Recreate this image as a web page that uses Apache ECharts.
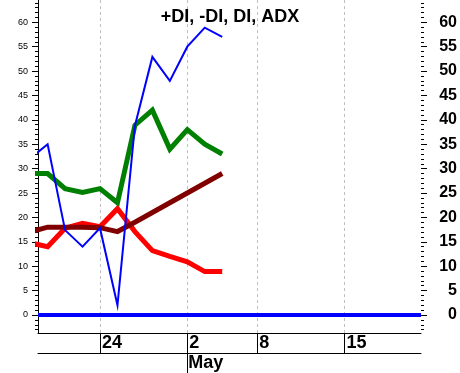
<!DOCTYPE html>
<html><head><meta charset="utf-8">
<script src="https://cdn.jsdelivr.net/npm/echarts@6/dist/echarts.min.js"></script>
<style>html,body{margin:0;padding:0;background:#fff}#c{width:460px;height:373px}</style>
</head><body><div id="c"></div>
<script>
// ---- data ----
const tradingDays = ['Apr 18','Apr 21','Apr 22','Apr 23','Apr 24','Apr 25','Apr 28','Apr 29','Apr 30',
  'May 2','May 5','May 6','May 7','May 8','May 9','May 12','May 13','May 14','May 15','May 16','May 19','May 20','May 21'];
const plusDI  = [29, 29, 25.9, 25.1, 25.9, 23, 38.9, 42, 34, 38, 35, 33];
const minusDI = [14.8, 14, 17.8, 18.8, 18.1, 21.8, 17.1, 13.2, 12, 10.9, 8.9, 8.9];
const dxLine  = [32.1, 35, 17.4, 14, 17.8, 2, 38.8, 52.9, 48, 55, 58.9, 57];
const adx     = [17.0, 18, 18, 18, 17.9, 17.1, 19, 21, 23, 25, 27, 29];
const baseline = 0;
const dayTicks = ['Apr 24','May 2','May 8','May 15'];
const dayTickLabels = ['24','2','8','15'];
const monthTicks = ['May 2'];
const monthTickLabels = ['May'];
const yTickLabelsMin = 0, yTickLabelsMax = 60, yTickStep = 5;
const titleText = '+DI, -DI, DI, ADX';

// ---- helpers ----
const idx = d => tradingDays.indexOf(d);
const pts = arr => arr.map((v, i) => [i, v]);
const anchor = idx('Apr 24');
const xMin = anchor - 3.551, xMax = anchor + 18.385;
const dayTickIdx = dayTicks.map(idx);
const monthTickIdx = monthTicks.map(idx);
const FONT = 'Liberation Sans';
const L = 38, R = 39;

const chart = echarts.init(document.getElementById('c'), null, {renderer: 'canvas'});
const hiddenX = g => ({gridIndex: g, type: 'value', show: false, min: 0, max: 1});
const lineSeries = (data, color, width) => ({
  type: 'line', xAxisIndex: 0, yAxisIndex: 0, data: pts(data), symbol: 'none', showSymbol: false,
  lineStyle: {color, width, cap: 'butt', join: 'miter'}, itemStyle: {color}, emphasis: {disabled: true}, silent: true, clip: true
});

chart.setOption({
  animation: false,
  backgroundColor: '#fff',
  title: {text: titleText, left: 'center', top: 3,
    textStyle: {fontFamily: FONT, fontSize: 18, fontWeight: 'bold', color: '#000'}},
  grid: [
    {left: L, right: R, top: 0, bottom: 40},
    {left: L, right: R, top: 2.78, bottom: 43.36},
    {left: L, right: R, top: 22.3, bottom: 58}
  ],
  xAxis: [
    {gridIndex: 0, type: 'value', min: xMin, max: xMax, position: 'bottom',
      axisLine: {show: true, onZero: false, lineStyle: {color: '#000', width: 1}},
      axisTick: {show: true, customValues: dayTickIdx, length: 20, lineStyle: {color: '#000', width: 1}},
      axisLabel: {show: true, customValues: dayTickIdx,
        formatter: v => dayTickLabels[dayTickIdx.indexOf(Math.round(v))],
        align: 'left', verticalAlign: 'middle', margin: 10, padding: [0, 0, 0, 2],
        fontFamily: FONT, fontSize: 18, fontWeight: 'bold', color: '#000'},
      splitLine: {show: true, lineStyle: {color: '#c0c0c0', width: 1, type: [3, 3]}}},
    {gridIndex: 0, type: 'value', min: xMin, max: xMax, position: 'bottom', offset: 20,
      axisLine: {show: true, onZero: false, lineStyle: {color: '#000', width: 1}},
      axisTick: {show: true, customValues: monthTickIdx, length: 20, lineStyle: {color: '#000', width: 1}},
      axisLabel: {show: true, customValues: monthTickIdx,
        formatter: v => monthTickLabels[monthTickIdx.indexOf(Math.round(v))],
        align: 'left', verticalAlign: 'middle', margin: 10, padding: [0, 0, 0, 1],
        fontFamily: FONT, fontSize: 18, fontWeight: 'bold', color: '#000'},
      splitLine: {show: false}},
    hiddenX(1), hiddenX(2)
  ],
  yAxis: [
    {gridIndex: 0, type: 'value', min: -3.69, max: 64.57, position: 'left',
      axisLine: {show: true, lineStyle: {color: '#000', width: 1}},
      axisTick: {show: false}, axisLabel: {show: false}, splitLine: {show: false}},
    {gridIndex: 1, type: 'value', min: -3, max: 64, interval: 1, position: 'left',
      axisLine: {show: false}, axisTick: {show: true, length: 3, lineStyle: {color: '#000'}},
      axisLabel: {show: false}, splitLine: {show: false}},
    {gridIndex: 1, type: 'value', min: -3, max: 64, interval: 1, position: 'right',
      axisLine: {show: false}, axisTick: {show: true, length: 3, lineStyle: {color: '#000'}},
      axisLabel: {show: false}, splitLine: {show: false}},
    {gridIndex: 2, type: 'value', min: yTickLabelsMin, max: yTickLabelsMax, interval: yTickStep, position: 'left',
      axisLine: {show: false}, axisTick: {show: true, length: 6, lineStyle: {color: '#000'}},
      axisLabel: {show: true, margin: 10, fontFamily: FONT, fontSize: 9, color: '#000'},
      splitLine: {show: false}},
    {gridIndex: 2, type: 'value', min: yTickLabelsMin, max: yTickLabelsMax, interval: yTickStep, position: 'right',
      axisLine: {show: false}, axisTick: {show: true, length: 6, lineStyle: {color: '#000'}},
      axisLabel: {show: true, margin: 36, align: 'right', fontFamily: FONT, fontSize: 16, fontWeight: 'bold', color: '#000'},
      splitLine: {show: false}}
  ],
  series: [
    lineSeries(plusDI, '#008000', 5),
    lineSeries(minusDI, '#ff0000', 5),
    lineSeries(adx, '#800000', 5),
    Object.assign(lineSeries(dxLine, '#0000ff', 2), {
      markLine: {silent: true, symbol: ['none', 'none'], label: {show: false}, animation: false,
        lineStyle: {color: '#0000ff', width: 4, type: 'solid'}, emphasis: {disabled: true},
        data: [{yAxis: baseline}]}
    })
  ]
});
</script>
</body></html>
